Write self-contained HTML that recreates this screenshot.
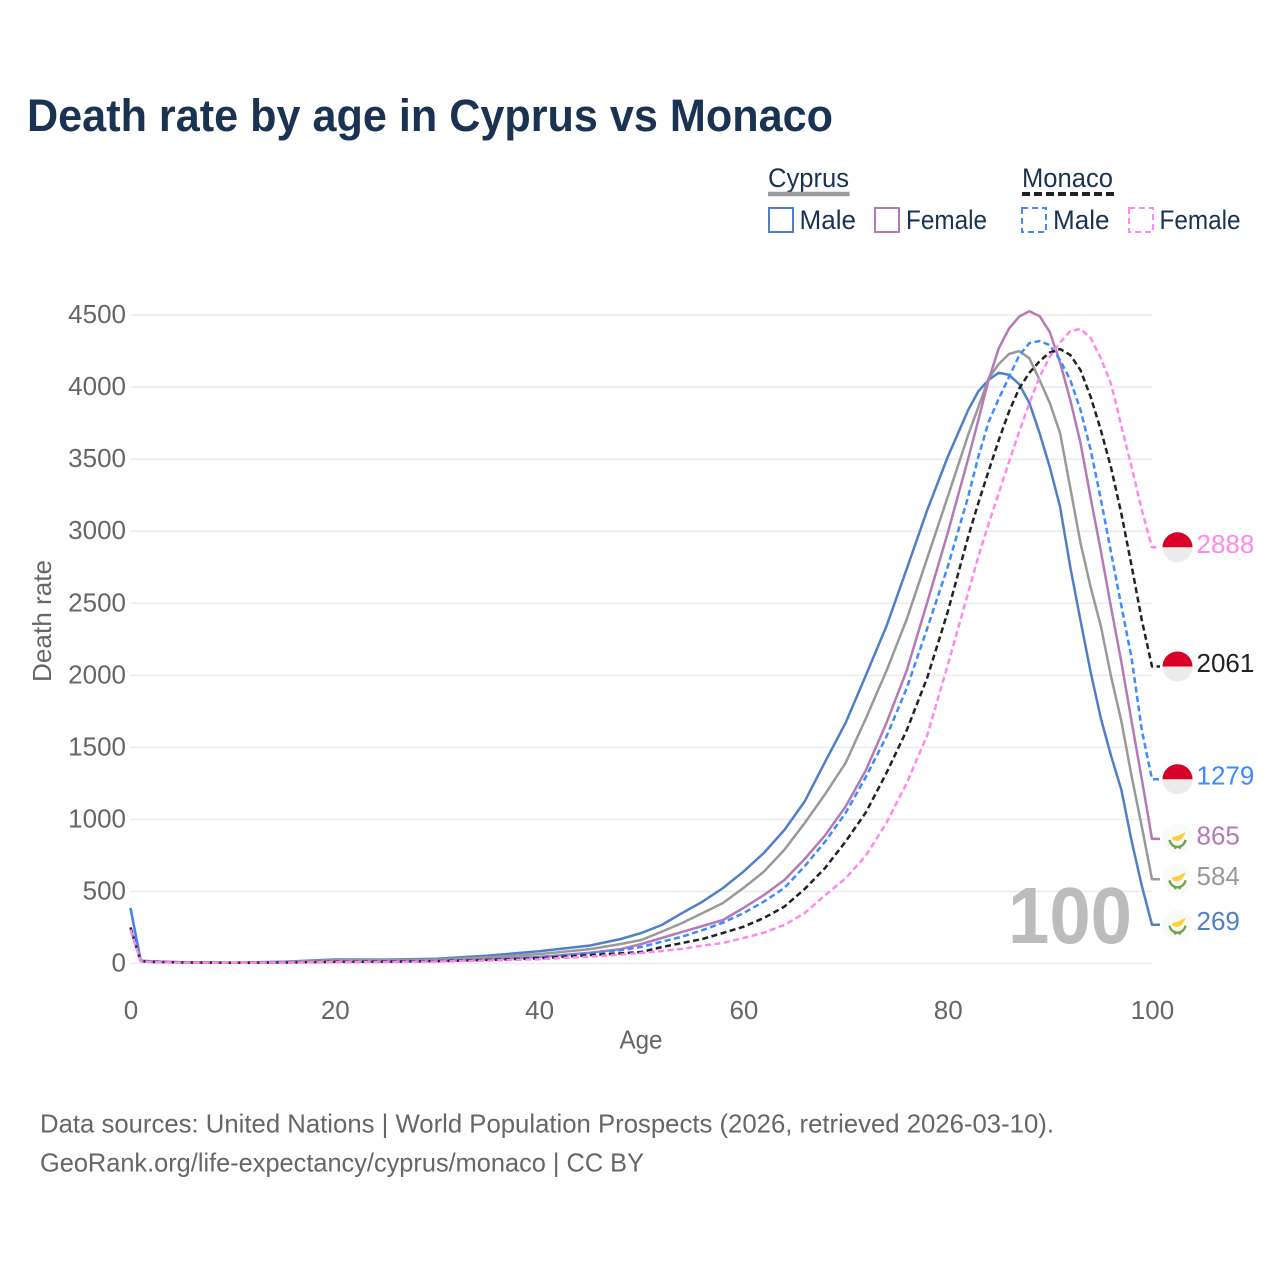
<!DOCTYPE html>
<html lang="en">
<head>
<meta charset="utf-8">
<title>Death rate by age in Cyprus vs Monaco</title>
<style>
html,body{margin:0;padding:0;background:#fff;}
svg{display:block;font-family:"Liberation Sans",sans-serif;}
</style>
</head>
<body>
<svg id="chart" xmlns="http://www.w3.org/2000/svg" width="1280" height="1280" viewBox="0 0 1280 1280">
  <text x="27" y="131" font-size="45" font-weight="700" fill="#1a3353" textLength="806" lengthAdjust="spacingAndGlyphs">Death rate by age in Cyprus vs Monaco</text>

  <g font-size="27" fill="#1a3353">
    <text x="768" y="187" textLength="81" lengthAdjust="spacingAndGlyphs">Cyprus</text>
    <line x1="768" x2="849.500" y1="194" y2="194" stroke="#999999" stroke-width="4.500"/>
    <text x="1022" y="187" textLength="91" lengthAdjust="spacingAndGlyphs">Monaco</text>
    <line x1="1022" x2="1114" y1="194" y2="194" stroke="#222222" stroke-width="4" stroke-dasharray="8 4"/>
    <rect x="769" y="208" width="24" height="24" fill="none" stroke="#4f7fc9" stroke-width="2"/>
    <text x="799.500" y="229" textLength="56.500" lengthAdjust="spacingAndGlyphs">Male</text>
    <rect x="875" y="208" width="24" height="24" fill="none" stroke="#b57ab5" stroke-width="2"/>
    <text x="906" y="229" textLength="81" lengthAdjust="spacingAndGlyphs">Female</text>
    <rect x="1022" y="208" width="24" height="24" fill="none" stroke="#3d8bff" stroke-width="2" stroke-dasharray="6 4"/>
    <text x="1053" y="229" textLength="56.500" lengthAdjust="spacingAndGlyphs">Male</text>
    <rect x="1129" y="208" width="24" height="24" fill="none" stroke="#ff88ee" stroke-width="2" stroke-dasharray="6 4"/>
    <text x="1159.500" y="229" textLength="81" lengthAdjust="spacingAndGlyphs">Female</text>
  </g>

  <g id="grid"></g>
  <g id="yticks" font-size="26" fill="#666666" text-anchor="end"></g>
  <g id="xticks" font-size="26" fill="#666666" text-anchor="middle"></g>
  <text transform="translate(51 621) rotate(-90)" font-size="26" fill="#666666" text-anchor="middle" textLength="122" lengthAdjust="spacingAndGlyphs">Death rate</text>
  <text x="641" y="1048.500" font-size="26" fill="#666666" text-anchor="middle" textLength="43" lengthAdjust="spacingAndGlyphs">Age</text>
  <text x="1008" y="943" font-size="80" font-weight="700" fill="#bcbcbc" textLength="124" lengthAdjust="spacingAndGlyphs">100</text>
  <g id="series"></g>
  <g id="ends"></g>

  <g font-size="26" fill="#666666">
    <text x="40" y="1132.500" textLength="1014" lengthAdjust="spacingAndGlyphs">Data sources: United Nations | World Population Prospects (2026, retrieved 2026-03-10).</text>
    <text x="40" y="1171.500" textLength="604" lengthAdjust="spacingAndGlyphs">GeoRank.org/life-expectancy/cyprus/monaco | CC BY</text>
  </g>
</svg>
<script>
const ages = [0,1,2,5,10,15,20,25,30,35,40,45,48,50,52,54,56,58,60,62,64,66,68,70,72,74,76,78,80,82,83,84,85,86,87,88,89,90,91,92,93,94,95,96,97,98,99,100];
const cyprusMale = [385,20,15,9,6,12,28,27,33,55,85,125,170,212,267,350,429,524,637,767,926,1125,1400,1668,2002,2340,2740,3148,3515,3840,3970,4050,4100,4085,4020,3890,3680,3445,3168,2750,2380,2020,1700,1440,1204,850,540,269];
const cyprusAll = [240,18,13,8,6,10,22,22,27,42,65,100,135,163,221,281,350,420,524,637,788,975,1175,1391,1703,2030,2390,2814,3238,3667,3860,4060,4160,4230,4250,4200,4049,3890,3680,3300,2918,2610,2340,1990,1680,1300,950,584];
const cyprusFemale = [250,16,11,7,5,7,11,12,17,28,45,75,100,135,177,219,260,302,385,475,579,725,890,1088,1343,1668,2035,2508,2987,3500,3770,4050,4270,4405,4490,4527,4493,4382,4170,3910,3612,3230,2860,2470,2090,1680,1280,865];
const monacoMale = [385,17,12,7,5,7,12,13,18,27,42,70,92,115,151,186,232,283,350,429,524,675,845,1044,1296,1574,1912,2327,2752,3238,3515,3758,3920,4070,4220,4305,4320,4291,4187,4049,3841,3563,3220,2850,2480,2120,1620,1279];
const monacoAll = [250,16,11,7,5,7,12,13,16,24,36,58,70,80,114,142,170,212,255,316,394,517,663,845,1050,1321,1620,1985,2439,2960,3195,3418,3633,3830,3990,4100,4180,4240,4264,4223,4118,3931,3700,3440,3120,2760,2384,2061];
const monacoFemale = [235,15,10,6,5,6,9,10,13,20,30,48,62,73,87,101,124,142,177,214,267,350,475,590,750,975,1253,1585,2070,2571,2823,3050,3265,3481,3690,3890,4070,4210,4310,4389,4403,4341,4200,4020,3730,3445,3147,2888];
const yTickValues = [0,500,1000,1500,2000,2500,3000,3500,4000,4500];
const xTickValues = [0,20,40,60,80,100];

const NS = 'http://www.w3.org/2000/svg';
const xScale = a => 130.5 + a * 10.215;
const yScale = v => 963.5 - v * 0.1441;
const make = (tag, parent) => { const el = document.createElementNS(NS, tag); parent.appendChild(el); return el; };

const grid = document.getElementById('grid');
const yticks = document.getElementById('yticks');
const xticks = document.getElementById('xticks');
yTickValues.forEach(v => {
  const gl = make('line', grid);
  
  
  gl.setAttribute('x1', xScale(0));
  gl.setAttribute('x2', xScale(100));
  gl.setAttribute('y1', yScale(v));
  gl.setAttribute('y2', yScale(v));
  gl.setAttribute('stroke', '#ececec');
  gl.setAttribute('stroke-width', '1.6');
  const t = make('text', yticks);
  
  
  t.setAttribute('x', 126);
  t.setAttribute('y', yScale(v) + 8);
  t.textContent = v;
});
xTickValues.forEach(a => {
  const t = make('text', xticks);
  
  
  t.setAttribute('x', xScale(a) + 0.5);
  t.setAttribute('y', 1019);
  t.textContent = a;
});

const seriesGroup = document.getElementById('series');
const endsGroup = document.getElementById('ends');
const drawLine = (values, color, dashed, lineName) => {
  const last = values[values.length - 1];
  const pts = ages.map((a, i) => xScale(a).toFixed(1) + ',' + yScale(values[i]).toFixed(1));
  pts.push((xScale(100) + 8).toFixed(1) + ',' + yScale(last).toFixed(1));
  const line = make('polyline', seriesGroup);
  
  
  line.setAttribute('points', pts.join(' '));
  line.setAttribute('fill', 'none');
  line.setAttribute('stroke', color);
  line.setAttribute('stroke-width', '2.5');
  line.setAttribute('stroke-linejoin', 'round');
  if (dashed) line.setAttribute('stroke-dasharray', '6 3.5');
};
const drawEnd = (values, color, country, labelName) => {
  const last = values[values.length - 1];
  const y = yScale(last);
  const flag = make('g', endsGroup);
  
  
  flag.setAttribute('transform', 'translate(1177.500 ' + y.toFixed(1) + ')');
  if (country === 'monaco') {
    flag.innerHTML = '<circle r="15" fill="#ececec"/><path d="M-15 0A15 15 0 0 1 15 0Z" fill="#d80027"/>';
  } else {
    flag.innerHTML = '<circle r="15" fill="#fafafa"/><path d="M-6 -1 C-3 -3 2 -3 4 -5 L8 -7 C7 -3 4 2 0 2 C-3 2 -5 1 -6 -1Z" fill="#ffcf33"/><path d="M-8 1 C-7 6 -3 8 0 8 C3 8 7 6 8 1" fill="none" stroke="#6da544" stroke-width="2.4"/><path d="M-3 7 L-2 10 M3 7 L2 10" stroke="#6da544" stroke-width="2"/>';
  }
  const label = make('text', endsGroup);
  
  
  label.setAttribute('x', 1196.5);
  label.setAttribute('y', y + 5.5);
  label.setAttribute('font-size', '26');
  label.setAttribute('fill', color);
  label.textContent = last;
};

drawLine(cyprusMale, '#4f7fc9', false, 'cyprus-male-line');
drawLine(cyprusAll, '#999999', false, 'cyprus-both-line');
drawLine(cyprusFemale, '#b57ab5', false, 'cyprus-female-line');
drawLine(monacoMale, '#3d8bff', true, 'monaco-male-line');
drawLine(monacoAll, '#222222', true, 'monaco-both-line');
drawLine(monacoFemale, '#ff88ee', true, 'monaco-female-line');

drawEnd(cyprusMale, '#4f7fc9', 'cyprus', 'cyprus-male-end-label');
drawEnd(cyprusAll, '#999999', 'cyprus', 'cyprus-both-end-label');
drawEnd(cyprusFemale, '#b57ab5', 'cyprus', 'cyprus-female-end-label');
drawEnd(monacoMale, '#3d8bff', 'monaco', 'monaco-male-end-label');
drawEnd(monacoAll, '#222222', 'monaco', 'monaco-both-end-label');
drawEnd(monacoFemale, '#ff88ee', 'monaco', 'monaco-female-end-label');
</script>
</body>
</html>
